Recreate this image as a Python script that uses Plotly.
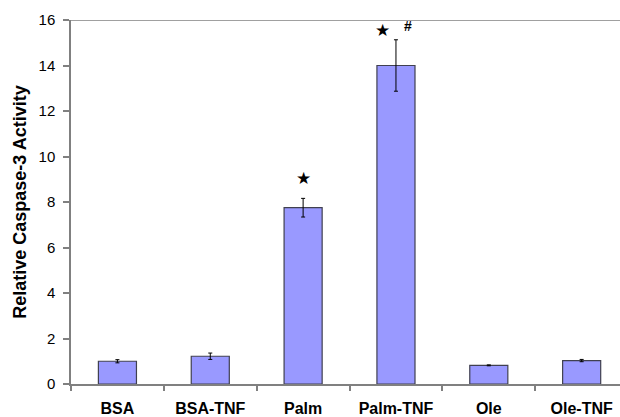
import plotly.graph_objects as go

# Caspase-3 activity per treatment (mean ± error)
categories = ["BSA", "BSA-TNF", "Palm", "Palm-TNF", "Ole", "Ole-TNF"]
activity = [1.0, 1.22, 7.75, 14.0, 0.82, 1.03]
errors = [0.07, 0.14, 0.41, 1.13, 0.02, 0.05]

# significance markers: (category, y value, symbol, horizontal offset px)
markers = [
    ("Palm", 9.05, "★", 0),
    ("Palm-TNF", 15.55, "★", -13),
    ("Palm-TNF", 15.75, "#", 12),
]

y_ticks = [0, 2, 4, 6, 8, 10, 12, 14, 16]

FONT = "Liberation Sans, Arial, sans-serif"
AXIS_GRAY = "#808080"

fig = go.Figure()
fig.add_trace(go.Bar(
    x=categories,
    y=activity,
    width=0.41,
    marker=dict(color="#9999FF", line=dict(color="#404050", width=1.2)),
    error_y=dict(type="data", array=errors, visible=True,
                 color="black", thickness=1, width=2),
))

for cat, yv, sym, dx in markers:
    fig.add_annotation(
        x=cat, y=yv, text=sym, showarrow=False, xshift=dx,
        font=dict(family="DejaVu Sans" if sym == "★" else FONT,
                  size=17 if sym == "★" else 14,
                  color="black", weight="normal" if sym == "★" else "bold"),
        yanchor="middle",
    )

# top border of the plot area
fig.add_shape(type="line", xref="paper", yref="y", x0=0, x1=1, y0=16, y1=16,
              line=dict(color=AXIS_GRAY, width=1.5))

fig.update_layout(
    width=620, height=417,
    margin=dict(l=71, r=0, t=20, b=33),
    paper_bgcolor="white", plot_bgcolor="white",
    showlegend=False,
    font=dict(family=FONT, color="black"),
    xaxis=dict(
        range=[-0.5, 5.413],
        showline=True, linecolor=AXIS_GRAY, linewidth=1.5,
        ticks="outside", tickson="boundaries", ticklen=5,
        tickcolor=AXIS_GRAY, tickwidth=1.5,
        tickfont=dict(family=FONT, size=16, color="black", weight="bold"),
        ticklabelstandoff=9,
        showgrid=False, zeroline=False,
    ),
    yaxis=dict(
        range=[0, 16],
        tickvals=y_ticks,
        showline=True, linecolor=AXIS_GRAY, linewidth=1.5,
        ticks="outside", ticklen=6, tickcolor=AXIS_GRAY, tickwidth=1.5,
        tickfont=dict(family=FONT, size=15, color="black"),
        ticklabelstandoff=5,
        showgrid=False, zeroline=False,
        title=dict(text="Relative Caspase-3 Activity",
                   font=dict(family=FONT, size=18, color="black", weight="bold"),
                   standoff=7),
    ),
)

fig.write_html("out.html")
